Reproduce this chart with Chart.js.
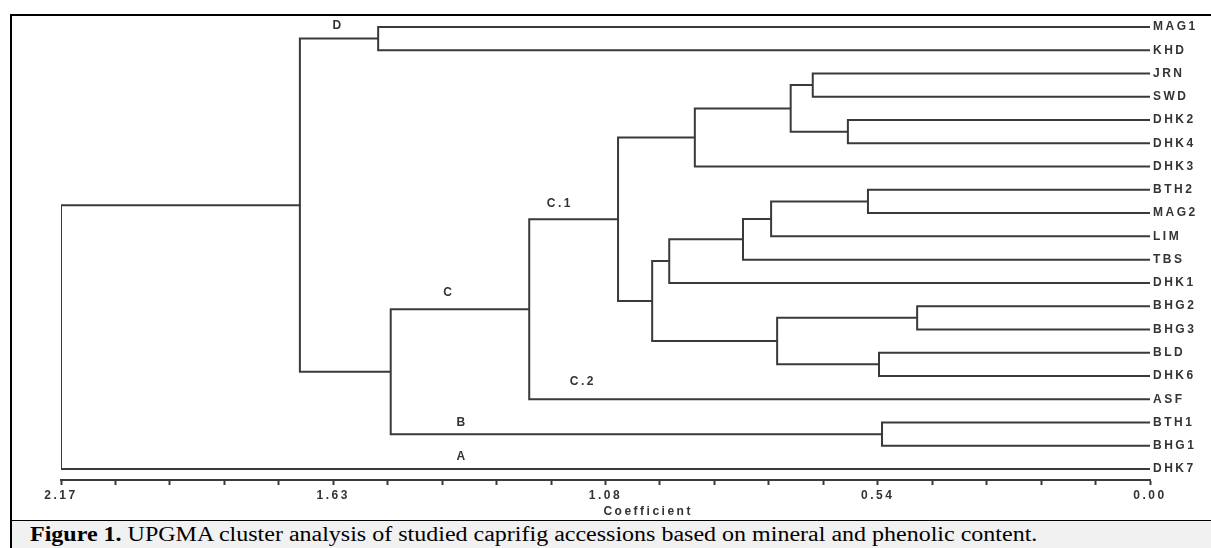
<!DOCTYPE html>
<html>
<head>
<meta charset="utf-8">
<script src="https://cdn.jsdelivr.net/npm/chart.js@4.4.0/dist/chart.umd.min.js"></script>
<style>
    body { margin: 0; background: #fff; width: 1211px; height: 548px; overflow: hidden; position: relative; }
    #frame {
        position: absolute; left: 10px; top: 14px; width: 1201px; height: 504px;
        border-left: 2px solid #000; border-top: 2px solid #000; border-bottom: 2px solid #000;
        box-sizing: content-box;
    }
    #chartBox { position: absolute; left: 0; top: 0; width: 1211px; height: 520px; }
    #caption {
        position: absolute; left: 10px; top: 521px; width: 1201px; height: 27px;
        background: #f1f1f1; border-left: 2px solid #000;
        box-sizing: border-box; overflow: hidden;
    }
    #caption span {
        position: absolute; left: 18px; top: 0;
        font-family: "Liberation Serif", "Times New Roman", serif; font-size: 20px;
        line-height: 27px; color: #000; white-space: nowrap;
        transform: scaleX(1.2); transform-origin: left center;
    }
</style>
</head>
<body>
<div id="frame"></div>
<div id="chartBox"><canvas id="dendro" width="1211" height="520"></canvas></div>
<div id="caption"><span><b>Figure 1.</b> UPGMA cluster analysis of studied caprifig accessions based on mineral and phenolic content.</span></div>

<script>
// leaves, top to bottom
const leaves = ['MAG1', 'KHD', 'JRN', 'SWD', 'DHK2', 'DHK4', 'DHK3', 'BTH2', 'MAG2', 'LIM',
                'TBS', 'DHK1', 'BHG2', 'BHG3', 'BLD', 'DHK6', 'ASF', 'BTH1', 'BHG1', 'DHK7'];

// merges (m0, m1, ...): two children + coefficient where they join
const joinA = ['MAG1', 'JRN', 'DHK2', 'm1', 'm3', 'BTH2', 'm5', 'm6', 'm7', 'BHG2',
               'BLD', 'm9', 'm8', 'm4', 'm13', 'BTH1', 'm14', 'm0', 'm17'];
const joinB = ['KHD', 'SWD', 'DHK4', 'm2', 'DHK3', 'MAG2', 'LIM', 'TBS', 'DHK1', 'BHG3',
               'DHK6', 'm10', 'm11', 'm12', 'ASF', 'BHG1', 'm15', 'm16', 'DHK7'];
const joinHeight = [1.538, 0.672, 0.602, 0.716, 0.907, 0.562, 0.755, 0.811, 0.958, 0.464,
                    0.540, 0.743, 0.992, 1.060, 1.237, 0.534, 1.513, 1.694, 2.17];

// axis
const xMax = 2.17;
const xTickLabels = ['0.00', '0.54', '1.08', '1.63', '2.17'];
const xTitle = 'Coefficient';

// cluster letters (coefficient, leaf row)
const clusterNames = ['D', 'C.1', 'C', 'C.2', 'B', 'A'];
const clusterX = [1.618, 1.176, 1.397, 1.130, 1.371, 1.371];
const clusterY = [-0.04, 7.61, 11.43, 15.26, 17.02, 18.48];

const lineColor = '#3a3a3a';
const textColor = '#333';
const labelFont = { family: '"Liberation Sans", Arial, sans-serif', size: 12, weight: 'bold' };

// build the segments from the merge table
const pos = {};
leaves.forEach((name, i) => { pos[name] = { x: 0, y: i }; });

const datasets = [];
joinHeight.forEach((h, i) => {
    const a = pos[joinA[i]];
    const b = pos[joinB[i]];
    datasets.push({
        data: [
            { x: a.x, y: a.y },
            { x: h, y: a.y },
            { x: h, y: b.y },
            { x: b.x, y: b.y }
        ],
        borderColor: lineColor,
        borderWidth: 2,
        pointRadius: 0,
        showLine: true,
        tension: 0,
        fill: false
    });
    pos['m' + i] = { x: h, y: (a.y + b.y) / 2 };
});

const spacedText = {
    id: 'spacedText',
    beforeDraw(chart) {
        chart.ctx.letterSpacing = '2.5px';
    },
    afterDraw(chart) {
        const ctx = chart.ctx;
        const xs = chart.scales.x;
        const ys = chart.scales.y;
        ctx.save();
        ctx.fillStyle = textColor;
        ctx.font = `bold 12px ${labelFont.family}`;
        ctx.textAlign = 'center';
        ctx.textBaseline = 'middle';
        clusterNames.forEach((name, i) => {
            ctx.fillText(name, xs.getPixelForValue(clusterX[i]), ys.getPixelForValue(clusterY[i]));
        });
        ctx.fillText(xTitle, xs.getPixelForValue(1.0), chart.chartArea.bottom + 32);
        ctx.restore();
        ctx.letterSpacing = '0px';
    }
};

new Chart(document.getElementById('dendro'), {
    type: 'scatter',
    data: { datasets: datasets },
    plugins: [spacedText],
    options: {
        responsive: false,
        animation: false,
        devicePixelRatio: 1,
        layout: { padding: { left: 61, top: 16, right: 0, bottom: 0 } },
        plugins: {
            legend: { display: false },
            tooltip: { enabled: false }
        },
        scales: {
            x: {
                type: 'linear',
                reverse: true,
                min: 0,
                max: xMax,
                afterBuildTicks: (scale) => {
                    const t = [];
                    for (let k = 0; k <= 20; k++) t.push({ value: xMax * k / 20 });
                    scale.ticks = t;
                },
                afterFit: (scale) => { scale.height = 40; },
                ticks: {
                    autoSkip: false,
                    maxRotation: 0,
                    padding: 3,
                    color: textColor,
                    font: labelFont,
                    callback: (v, i) => (i % 5 === 0 ? xTickLabels[i / 5] : '')
                },
                grid: {
                    drawOnChartArea: false,
                    drawTicks: true,
                    tickLength: 5,
                    tickColor: lineColor,
                    tickWidth: 2
                },
                border: { display: true, color: lineColor, width: 2 }
            },
            y: {
                type: 'linear',
                position: 'right',
                reverse: true,
                min: -0.47,
                max: 19.47,
                afterBuildTicks: (scale) => {
                    scale.ticks = leaves.map((_, i) => ({ value: i }));
                },
                afterFit: (scale) => { scale.width = 61; },
                ticks: {
                    autoSkip: false,
                    padding: 3,
                    color: textColor,
                    font: labelFont,
                    callback: (v) => leaves[v]
                },
                grid: { display: false, drawTicks: false },
                border: { display: false }
            }
        }
    }
});
</script>
</body>
</html>
